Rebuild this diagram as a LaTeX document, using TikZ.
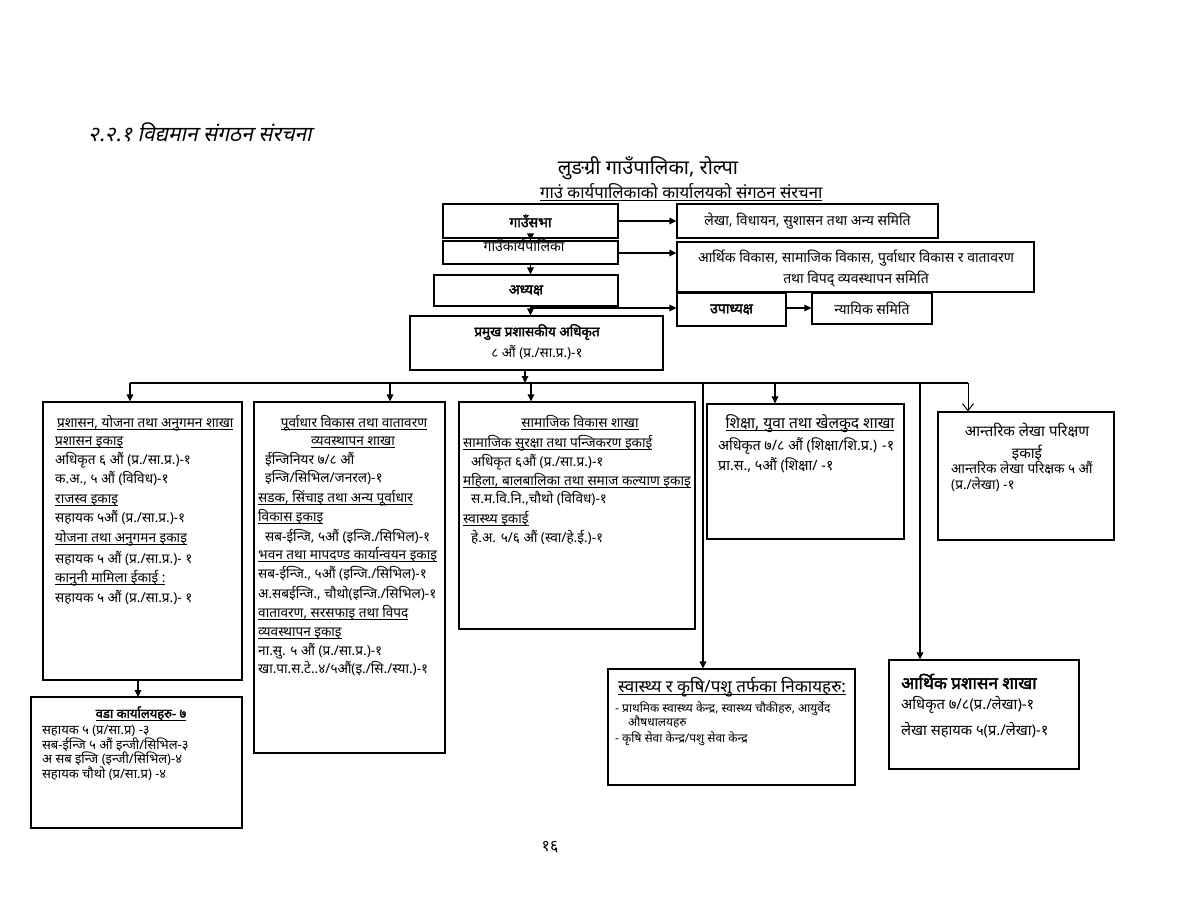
\documentclass[tikz,border=0pt]{standalone}
\usepackage{fontspec}
\setmainfont[Script=Devanagari]{Noto Sans}
\newfontfamily\devsl[Script=Devanagari,FakeSlant=0.22]{Noto Sans}
\newfontfamily\devbf[Script=Devanagari,FakeBold=2.2]{Noto Sans}
\usetikzlibrary{arrows.meta,fit}
\newcommand\myul[1]{\setbox0\hbox{#1}\rlap{\rule[-3pt]{\wd0}{0.7pt}}\box0}
\tikzset{
 bx/.style={draw, line width=1.1pt, fill=white, inner sep=0pt},
 arr/.style={line width=1.1pt, -{Triangle[length=7pt,width=6.5pt]}},
 oarr/.style={line width=1pt, -{Straight Barb[length=7pt,width=11pt]}},
 ln/.style={anchor=base west, inner sep=0pt, font=\fontsize{13.6}{15}\selectfont},
 lnc/.style={anchor=base, inner sep=0pt, font=\fontsize{13.6}{15}\selectfont},
 lbl/.style={inner sep=0pt, font=\fontsize{14}{16}\selectfont},
 lbb/.style={inner sep=0pt, font=\devbf\fontsize{14}{16}\selectfont},
}
\begin{document}
\begin{tikzpicture}[x=1pt,y=-1pt]
\useasboundingbox (0,0) rectangle (1178,910);
\fill[white] (0,0) rectangle (1178,910);

% titles
\node[anchor=base west, inner sep=0pt, font=\devsl\fontsize{21}{24}\selectfont] (title) at (88,141) {२.२.१ विद्यमान संगठन संरचना};
\node[anchor=base, inner sep=0pt, font=\fontsize{20}{23}\selectfont] (gp) at (648,174) {लुङग्री गाउँपालिका, रोल्पा};
\node[anchor=base west, inner sep=0pt, font=\fontsize{16.7}{19}\selectfont] (sub) at (540,198) {\myul{गाउं कार्यपालिकाको कार्यालयको संगठन संरचना}};

% top boxes
\node[bx, fit={(443,204)(618,238)}] (sabha) {};
\node[lbb] at (sabha.center) {गाउँसभा};
\node[bx, fit={(443,241)(618,264)}] (karya) {};
\node[lbl, anchor=north] at (524,239) {गाउँकार्यपालिका};
\node[bx, fit={(677,204)(938,238)}] (lekha) {};
\node[lbl] at (lekha.center) {लेखा, विधायन, सुशासन तथा अन्य समिति};
\node[bx, fit={(677,242)(1034,292)}] (samiti) {};
\node[lbl] at (856,258) {आर्थिक विकास, सामाजिक विकास, पुर्वाधार विकास र वातावरण};
\node[lbl] at (856,279) {तथा विपद् व्यवस्थापन समिति};
\node[bx, fit={(434,275)(618,306)}] (adhy) {};
\node[lbb] at (adhy.center) {अध्यक्ष};
\node[bx, fit={(677,293)(786,326)}] (upa) {};
\node[lbb] at (upa.center) {उपाध्यक्ष};
\node[bx, fit={(812,293)(932,324)}] (nyay) {};
\node[lbl] at (nyay.center) {न्यायिक समिति};
\node[bx, fit={(410,316)(663,370)}] (cao) {};
\node[lbb, font=\devbf\fontsize{13.5}{15}\selectfont] at (537,332) {प्रमुख प्रशासकीय अधिकृत};
\node[lbl, font=\fontsize{13.5}{15}\selectfont] at (537,353) {८ औं (प्र./सा.प्र.)-१};

% top connectors
\draw[arr] (sabha.south) -- (karya.north);
\draw[arr] (sabha.east) -- (sabha.east -| lekha.west);
\draw[arr] (karya.east |- 0,253) -- (samiti.west |- 0,253);
\draw[arr] (karya.south) -- (karya.south |- adhy.north);
\coordinate (ab) at (530,308);
\draw[arr] (ab) -- (ab -| upa.west);
\draw[arr] (upa.east |- 0,308) -- (nyay.west |- 0,308);
\draw[arr] (karya.south |- adhy.south) -- (karya.south |- cao.north);

% lower boxes
\node[bx, fit={(43,402)(242,680)}] (b1) {};
\node[bx, fit={(31,697)(242,828)}] (ward) {};
\node[bx, fit={(254,402)(445,753)}] (b2) {};
\node[bx, fit={(459,402)(695,629)}] (b3) {};
\node[bx, fit={(707,404)(904,539)}] (b4) {};
\node[bx, fit={(938,412)(1114,540)}] (b5) {};
\node[bx, fit={(608,669)(855,785)}] (hlth) {};
\node[bx, fit={(889,660)(1079,769)}] (fin) {};

% bus
\coordinate (busL) at (130,383);
\coordinate (busR) at (968,383);
\coordinate (j2) at (390,383);
\coordinate (j3) at (531,383);
\coordinate (j4) at (703,383);
\coordinate (j5) at (775,383);
\coordinate (j6) at (920,383);
\draw[arr] (cao.south -| 525,0) -- (525,383);
\draw[line width=1.1pt] (busL) -- (busR);
\draw[arr] (busL) -- (busL |- b1.north);
\draw[arr] (j2) -- (j2 |- b2.north);
\draw[arr] (j3) -- (j3 |- b3.north);
\draw[arr] (j4) -- (j4 |- hlth.north);
\draw[arr] (j5) -- (j5 |- b4.north);
\draw[arr] (j6) -- (j6 |- fin.north);
\draw[oarr] (busR) -- (busR |- b5.north);
\draw[arr] (b1.south -| 138,0) -- (138,697);

% box 1
\node[ln] at (57,427) {\myul{प्रशासन, योजना  तथा अनुगमन शाखा}};
\node[ln] at (55,445) {\myul{प्रशासन इकाइ}};
\node[ln] at (55,464) {अधिकृत ६ औं (प्र./सा.प्र.)-१};
\node[ln] at (55,483) {क.अ., ५ औं (विविध)-१};
\node[ln] at (55,503) {\myul{राजस्व इकाइ}};
\node[ln] at (55,522) {सहायक ५औं (प्र./सा.प्र.)-१};
\node[ln] at (55,542) {\myul{योजना तथा अनुगमन इकाइ}};
\node[ln] at (55,563) {सहायक ५ औं (प्र./सा.प्र.)- १};
\node[ln] at (55,582) {\myul{कानुनी  मामिला ईकाई :}};
\node[ln] at (55,602) {सहायक ५ औं (प्र./सा.प्र.)- १};

% ward box
\node[lnc, font=\devbf\fontsize{13}{14}\selectfont] at (141,718) {\myul{वडा कार्यालयहरु- ७}};
\node[ln, font=\fontsize{13}{14}\selectfont] at (42,734) {सहायक ५ (प्र/सा.प्र) -३};
\node[ln, font=\fontsize{13}{14}\selectfont] at (42,749) {सब-ईन्जि ५ औं इन्जी/सिभिल-३};
\node[ln, font=\fontsize{13}{14}\selectfont] at (42,763) {अ सब इन्जि (इन्जी/सिभिल)-४};
\node[ln, font=\fontsize{13}{14}\selectfont] at (42,778) {सहायक चौथो (प्र/सा.प्र) -४};

% box 2
\node[lnc] at (354,427) {\myul{पूर्वाधार विकास तथा वातावरण}};
\node[lnc] at (353,445) {\myul{व्यवस्थापन शाखा}};
\node[ln] at (265,464) {ईन्जिनियर ७/८ औं};
\node[ln] at (265,482) {इन्जि/सिभिल/जनरल)-१};
\node[ln] at (258,502) {\myul{सडक, सिंचाइ तथा अन्य पूर्वाधार}};
\node[ln] at (258,521) {\myul{विकास इकाइ}};
\node[ln] at (265,541) {सब-ईन्जि, ५औं (इन्जि./सिभिल)-१};
\node[ln] at (258,559) {\myul{भवन तथा मापदण्ड कार्यान्वयन इकाइ}};
\node[ln] at (258,578) {सब-ईन्जि., ५औं (इन्जि./सिभिल)-१};
\node[ln] at (258,598) {अ.सबईन्जि., चौथो(इन्जि./सिभिल)-१};
\node[ln] at (258,617) {\myul{वातावरण, सरसफाइ तथा विपद}};
\node[ln] at (258,636) {\myul{व्यवस्थापन इकाइ}};
\node[ln] at (258,655) {ना.सु. ५ औं (प्र./सा.प्र.)-१};
\node[ln] at (258,673) {खा.पा.स.टे..४/५औं(इ./सि./स्या.)-१};

% box 3
\node[lnc] at (580,427) {\myul{सामाजिक विकास शाखा}};
\node[ln] at (463,447) {\myul{सामाजिक सुरक्षा तथा पन्जिकरण इकाई}};
\node[ln] at (471,466) {अधिकृत ६औं (प्र./सा.प्र.)-१};
\node[ln] at (463,485) {\myul{महिला, बालबालिका तथा समाज कल्याण इकाइ}};
\node[ln] at (471,503) {स.म.वि.नि.,चौथो (विविध)-१};
\node[ln] at (463,523) {\myul{स्वास्थ्य  इकाई}};
\node[ln] at (471,542) {हे.अ. ५/६ औं (स्वा/हे.ई.)-१};

% box 4
\node[lnc, font=\fontsize{15.5}{17}\selectfont] at (810,428) {\myul{शिक्षा, युवा तथा खेलकुद शाखा}};
\node[ln, font=\fontsize{14.3}{16}\selectfont] at (718,450) {अधिकृत ७/८ औं (शिक्षा/शि.प्र.) -१};
\node[ln, font=\fontsize{14.3}{16}\selectfont] at (718,470) {प्रा.स., ५औं (शिक्षा/ -१};

% box 5
\node[lnc, font=\fontsize{15}{17}\selectfont] at (1027,436) {आन्तरिक लेखा परिक्षण};
\node[lnc, font=\fontsize{15}{17}\selectfont] at (1027,458) {इकाई};
\node[ln] at (951,473) {आन्तरिक लेखा परिक्षक ५ औं};
\node[ln] at (951,489) {(प्र./लेखा) -१};

% health box
\node[ln, font=\fontsize{17}{19}\selectfont] at (618,692) {\myul{स्वास्थ्य र कृषि/पशु तर्फका निकायहरु:}};
\node[ln, font=\fontsize{12}{13}\selectfont] at (615,712) {- प्राथमिक स्वास्थ्य केन्द्र, स्वास्थ्य चौकीहरु, आयुर्वेद};
\node[ln, font=\fontsize{12}{13}\selectfont] at (628,726) {औषधालयहरु};
\node[ln, font=\fontsize{12}{13}\selectfont] at (615,742) {- कृषि सेवा केन्द्र/पशु सेवा केन्द्र};

% finance box
\node[ln, font=\devbf\fontsize{17}{19}\selectfont] at (901,689) {आर्थिक प्रशासन शाखा};
\node[ln, font=\fontsize{14.7}{16}\selectfont] at (901,709) {अधिकृत ७/८(प्र./लेखा)-१};
\node[ln, font=\fontsize{14.7}{16}\selectfont] at (901,735) {लेखा सहायक ५(प्र./लेखा)-१};

% page number
\node[lnc, font=\fontsize{16}{18}\selectfont] (pg) at (550,851) {१६};
\end{tikzpicture}
\end{document}
